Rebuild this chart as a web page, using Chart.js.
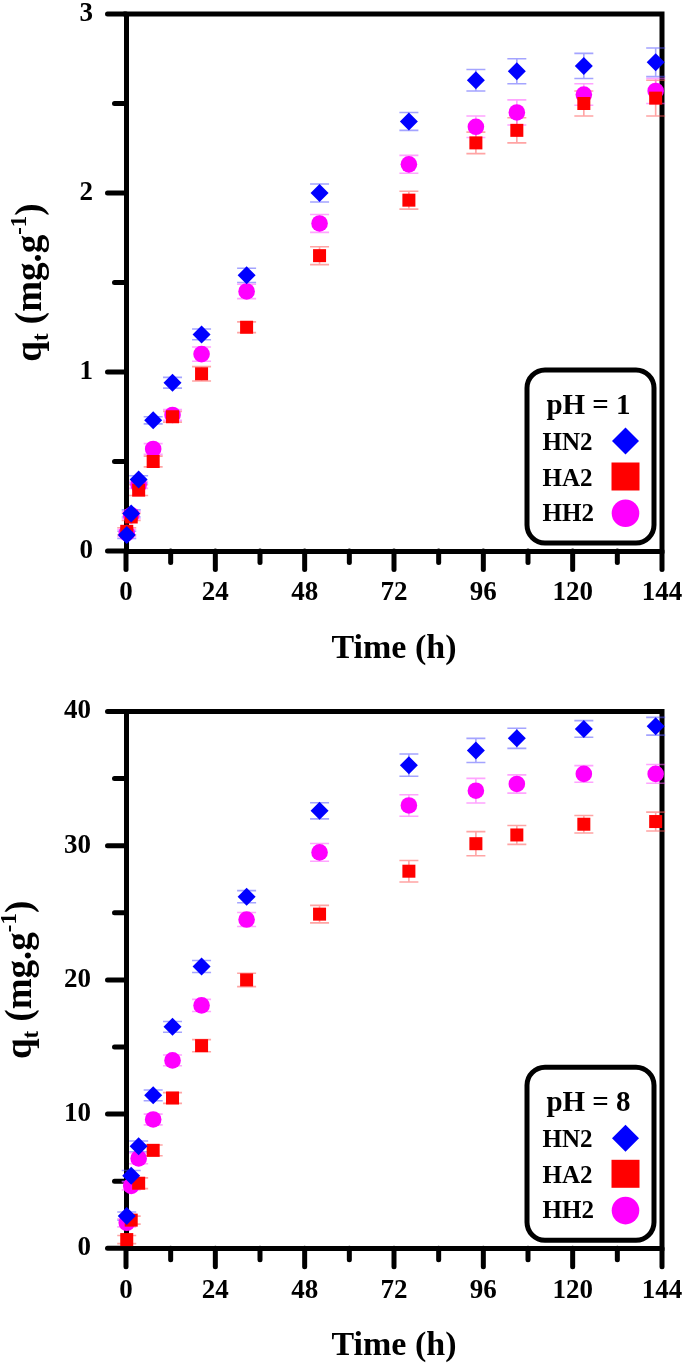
<!DOCTYPE html>
<html>
<head>
<meta charset="utf-8">
<script src="https://cdn.jsdelivr.net/npm/chart.js@4.4.1/dist/chart.umd.min.js"></script>
<style>
html,body{margin:0;padding:0;background:#fff;}
canvas{display:block;}
</style>
</head>
<body>
<canvas id="c1" width="685" height="683"></canvas>
<canvas id="c2" width="685" height="683"></canvas>
<script>
// ---------- data ----------
const timeH = [0.2, 1.4, 3.4, 7.3, 12.5, 20.3, 32.4, 52, 76, 94, 105, 123, 142.3];
const seriesNames = ['HN2', 'HA2', 'HH2'];

// pH = 1
const hn2_pH1 = [0.09, 0.21, 0.40, 0.73, 0.94, 1.21, 1.54, 2.00, 2.40, 2.63, 2.68, 2.71, 2.73];
const ha2_pH1 = [0.11, 0.19, 0.34, 0.50, 0.75, 0.99, 1.25, 1.65, 1.96, 2.28, 2.35, 2.50, 2.53];
const hh2_pH1 = [0.10, 0.20, 0.37, 0.57, 0.76, 1.10, 1.45, 1.83, 2.16, 2.37, 2.45, 2.55, 2.57];
const hn2Err_pH1 = [0.02, 0.02, 0.02, 0.02, 0.03, 0.03, 0.04, 0.05, 0.05, 0.06, 0.07, 0.07, 0.08];
const ha2Err_pH1 = [0.02, 0.02, 0.03, 0.03, 0.03, 0.04, 0.03, 0.05, 0.05, 0.06, 0.07, 0.07, 0.10];
const hh2Err_pH1 = [0.02, 0.02, 0.02, 0.03, 0.03, 0.04, 0.04, 0.05, 0.05, 0.06, 0.07, 0.06, 0.07];

// pH = 8
const hn2_pH8 = [2.4, 5.4, 7.6, 11.4, 16.5, 21.0, 26.2, 32.6, 36.0, 37.1, 38.0, 38.7, 38.9];
const ha2_pH8 = [0.65, 2.1, 4.85, 7.3, 11.2, 15.1, 20.0, 24.9, 28.1, 30.15, 30.8, 31.6, 31.8];
const hh2_pH8 = [1.9, 4.65, 6.7, 9.6, 14.0, 18.1, 24.5, 29.5, 33.0, 34.1, 34.6, 35.35, 35.35];
const hn2Err_pH8 = [0.3, 0.4, 0.4, 0.4, 0.4, 0.45, 0.45, 0.6, 0.83, 0.9, 0.75, 0.62, 0.66];
const ha2Err_pH8 = [0.3, 0.3, 0.4, 0.4, 0.4, 0.45, 0.5, 0.65, 0.8, 0.9, 0.7, 0.65, 0.7];
const hh2Err_pH8 = [0.3, 0.3, 0.4, 0.4, 0.4, 0.45, 0.52, 0.66, 0.8, 0.92, 0.68, 0.62, 0.7];

const xTickLabels = ['0', '24', '48', '72', '96', '120', '144'];
const yTickLabels_pH1 = ['0', '1', '2', '3'];
const yTickLabels_pH8 = ['0', '10', '20', '30', '40'];

// ---------- style ----------
const FAM = "'Liberation Serif', 'Times New Roman', serif";
const COLORS = ['#0000ff', '#ff0000', '#ff00ff'];
const ERRCOL = ['rgba(90,90,255,0.55)', 'rgba(255,90,90,0.55)', 'rgba(255,90,255,0.55)'];
const STYLES = ['rectRot', 'rect', 'circle'];
const RADII = [9, 9.2, 8.3];

function drawMarker(ctx, style, x, y, r) {
  ctx.beginPath();
  if (style === 'rectRot') {
    ctx.moveTo(x, y - r); ctx.lineTo(x + r, y); ctx.lineTo(x, y + r); ctx.lineTo(x - r, y); ctx.closePath();
  } else if (style === 'rect') {
    ctx.rect(x - r, y - r, 2 * r, 2 * r);
  } else {
    ctx.arc(x, y, r, 0, Math.PI * 2);
  }
  ctx.fill();
}

function roundRectPath(ctx, x, y, w, h, r) {
  ctx.beginPath();
  ctx.moveTo(x + r, y);
  ctx.lineTo(x + w - r, y);
  ctx.arcTo(x + w, y, x + w, y + r, r);
  ctx.lineTo(x + w, y + h - r);
  ctx.arcTo(x + w, y + h, x + w - r, y + h, r);
  ctx.lineTo(x + r, y + h);
  ctx.arcTo(x, y + h, x, y + h - r, r);
  ctx.lineTo(x, y + r);
  ctx.arcTo(x, y, x + r, y, r);
  ctx.closePath();
}

function makePlugin(cfg) {
  return {
    id: 'sci_' + cfg.id,
    beforeDatasetsDraw(chart) {
      const {ctx, chartArea: ca, scales: {x, y}} = chart;
      ctx.save();
      ctx.strokeStyle = '#000';
      ctx.lineWidth = 5;
      ctx.lineCap = 'round';
      x.ticks.forEach(t => {
        const px = x.getPixelForValue(t.value);
        const major = xTickLabels.includes(String(t.value));
        ctx.beginPath();
        ctx.moveTo(px, ca.bottom);
        ctx.lineTo(px, ca.bottom + (major ? 18.5 : 11.5));
        ctx.stroke();
      });
      y.ticks.forEach(t => {
        const py = y.getPixelForValue(t.value);
        const major = cfg.yLabels.includes(String(t.value));
        ctx.beginPath();
        ctx.moveTo(ca.left, py);
        ctx.lineTo(ca.left - (major ? 18.5 : 11.5), py);
        ctx.stroke();
      });
      // top and right frame
      ctx.lineCap = 'square';
      ctx.beginPath();
      ctx.moveTo(ca.left, ca.top);
      ctx.lineTo(ca.right, ca.top);
      ctx.lineTo(ca.right, ca.bottom);
      ctx.stroke();
      // error bars
      ctx.lineCap = 'butt';
      chart.data.datasets.forEach((ds, i) => {
        const meta = chart.getDatasetMeta(i);
        ctx.strokeStyle = ERRCOL[i];
        ctx.lineWidth = 1.6;
        meta.data.forEach((pt, j) => {
          const v = ds.data[j].y, e = ds.errorBars[j];
          const yt = y.getPixelForValue(v + e), yb = y.getPixelForValue(v - e);
          ctx.beginPath();
          ctx.moveTo(pt.x, yt); ctx.lineTo(pt.x, yb);
          ctx.moveTo(pt.x - 9.5, yt); ctx.lineTo(pt.x + 9.5, yt);
          ctx.moveTo(pt.x - 9.5, yb); ctx.lineTo(pt.x + 9.5, yb);
          ctx.stroke();
        });
      });
      ctx.restore();
    },
    afterDatasetsDraw(chart) {
      const {ctx, chartArea: ca} = chart;
      ctx.save();
      // legend box
      const W = 132, H = 178;
      const bx = ca.right - 5.5 - W, by = ca.bottom - 5.5 - H;
      roundRectPath(ctx, bx + 2.5, by + 2.5, W - 5, H - 5, 18);
      ctx.fillStyle = '#fff';
      ctx.fill();
      ctx.lineWidth = 5;
      ctx.strokeStyle = '#000';
      ctx.stroke();
      ctx.fillStyle = '#000';
      ctx.textBaseline = 'alphabetic';
      ctx.textAlign = 'center';
      ctx.font = 'bold 29px ' + FAM;
      ctx.fillText(cfg.legendTitle, bx + 64, by + 46);
      ctx.font = 'bold 25px ' + FAM;
      ctx.textAlign = 'left';
      const baseY = [82, 118.5, 153.5];
      const markY = [73.5, 109, 145.8];
      const markR = [13.5, 14, 13.8];
      chart.data.datasets.forEach((ds, i) => {
        ctx.fillStyle = '#000';
        ctx.fillText(ds.label, bx + 18, by + baseY[i]);
        ctx.fillStyle = COLORS[i];
        drawMarker(ctx, STYLES[i], bx + 101, by + markY[i], markR[i]);
      });
      ctx.restore();
    },
    afterDraw(chart) {
      const {ctx, chartArea: ca} = chart;
      ctx.save();
      ctx.translate(cfg.yTitleX, (ca.top + ca.bottom) / 2);
      ctx.rotate(-Math.PI / 2);
      ctx.fillStyle = '#000';
      ctx.textBaseline = 'alphabetic';
      ctx.textAlign = 'left';
      const S = 37;
      const parts = [
        {t: 'q', s: 1, dy: 0},
        {t: 't', s: 0.62, dy: 0.2 * S},
        {t: ' (mg.g', s: 1, dy: 0},
        {t: '-1', s: 0.62, dy: -0.4 * S},
        {t: ')', s: 1, dy: 0}
      ];
      let total = 0;
      parts.forEach(p => {
        ctx.font = 'bold ' + (S * p.s) + 'px ' + FAM;
        p.w = ctx.measureText(p.t).width;
        total += p.w;
      });
      let xx = -total / 2;
      parts.forEach(p => {
        ctx.font = 'bold ' + (S * p.s) + 'px ' + FAM;
        ctx.fillText(p.t, xx, p.dy);
        xx += p.w;
      });
      ctx.restore();
    }
  };
}

function buildChart(cfg) {
  const seriesData = cfg.series;
  const datasets = seriesData.map((vals, i) => ({
    label: seriesNames[i],
    data: timeH.map((t, j) => ({x: t, y: vals[j]})),
    errorBars: cfg.errors[i],
    pointStyle: STYLES[i],
    pointRadius: RADII[i],
    pointHoverRadius: RADII[i],
    backgroundColor: COLORS[i],
    borderColor: COLORS[i],
    pointBorderWidth: 0,
    borderWidth: 0,
    showLine: false,
    clip: false
  }));
  const tickFont = {family: FAM, size: 27, weight: 'bold'};
  return new Chart(document.getElementById(cfg.id), {
    type: 'scatter',
    data: {datasets},
    options: {
      responsive: false,
      animation: false,
      devicePixelRatio: 1,
      layout: {padding: {left: 0, right: 23, top: cfg.top, bottom: 0}},
      plugins: {legend: {display: false}, tooltip: {enabled: false}},
      scales: {
        x: {
          type: 'linear', min: 0, max: 144,
          border: {display: true, width: 5, color: '#000'},
          grid: {display: false, drawTicks: false},
          ticks: {
            stepSize: 12, includeBounds: false, autoSkip: false, maxRotation: 0,
            padding: cfg.xPad, color: '#000', font: tickFont,
            callback: v => xTickLabels.includes(String(v)) ? String(v) : ''
          },
          title: {
            display: true, text: 'Time (h)', color: '#000',
            font: {family: FAM, size: 34, weight: 'bold', lineHeight: 1},
            padding: {top: 0, bottom: cfg.titlePad}
          },
          afterFit: s => { s.height = cfg.xH; s.paddingLeft = 0; s.paddingRight = 0; }
        },
        y: {
          type: 'linear', min: 0, max: cfg.yMax,
          border: {display: true, width: 5, color: '#000'},
          grid: {display: false, drawTicks: false},
          ticks: {
            stepSize: cfg.yStep, autoSkip: false, padding: cfg.yPad, color: '#000', font: tickFont,
            callback: v => cfg.yLabels.includes(String(v)) ? String(v) : ''
          },
          afterFit: s => { s.width = 126; s.paddingTop = 0; s.paddingBottom = 0; }
        }
      }
    },
    plugins: [makePlugin(cfg)]
  });
}

buildChart({
  id: 'c1', top: 14, xH: 132, xPad: 25.5, titlePad: 17, yPad: 33, yTitleX: 41,
  yMax: 3, yStep: 0.5, yLabels: yTickLabels_pH1, legendTitle: 'pH = 1',
  series: [hn2_pH1, ha2_pH1, hh2_pH1],
  errors: [hn2Err_pH1, ha2Err_pH1, hh2Err_pH1]
});
buildChart({
  id: 'c2', top: 28.5, xH: 117.7, xPad: 26.5, titlePad: 3, yPad: 35, yTitleX: 31,
  yMax: 40, yStep: 5, yLabels: yTickLabels_pH8, legendTitle: 'pH = 8',
  series: [hn2_pH8, ha2_pH8, hh2_pH8],
  errors: [hn2Err_pH8, ha2Err_pH8, hh2Err_pH8]
});
</script>
</body>
</html>
